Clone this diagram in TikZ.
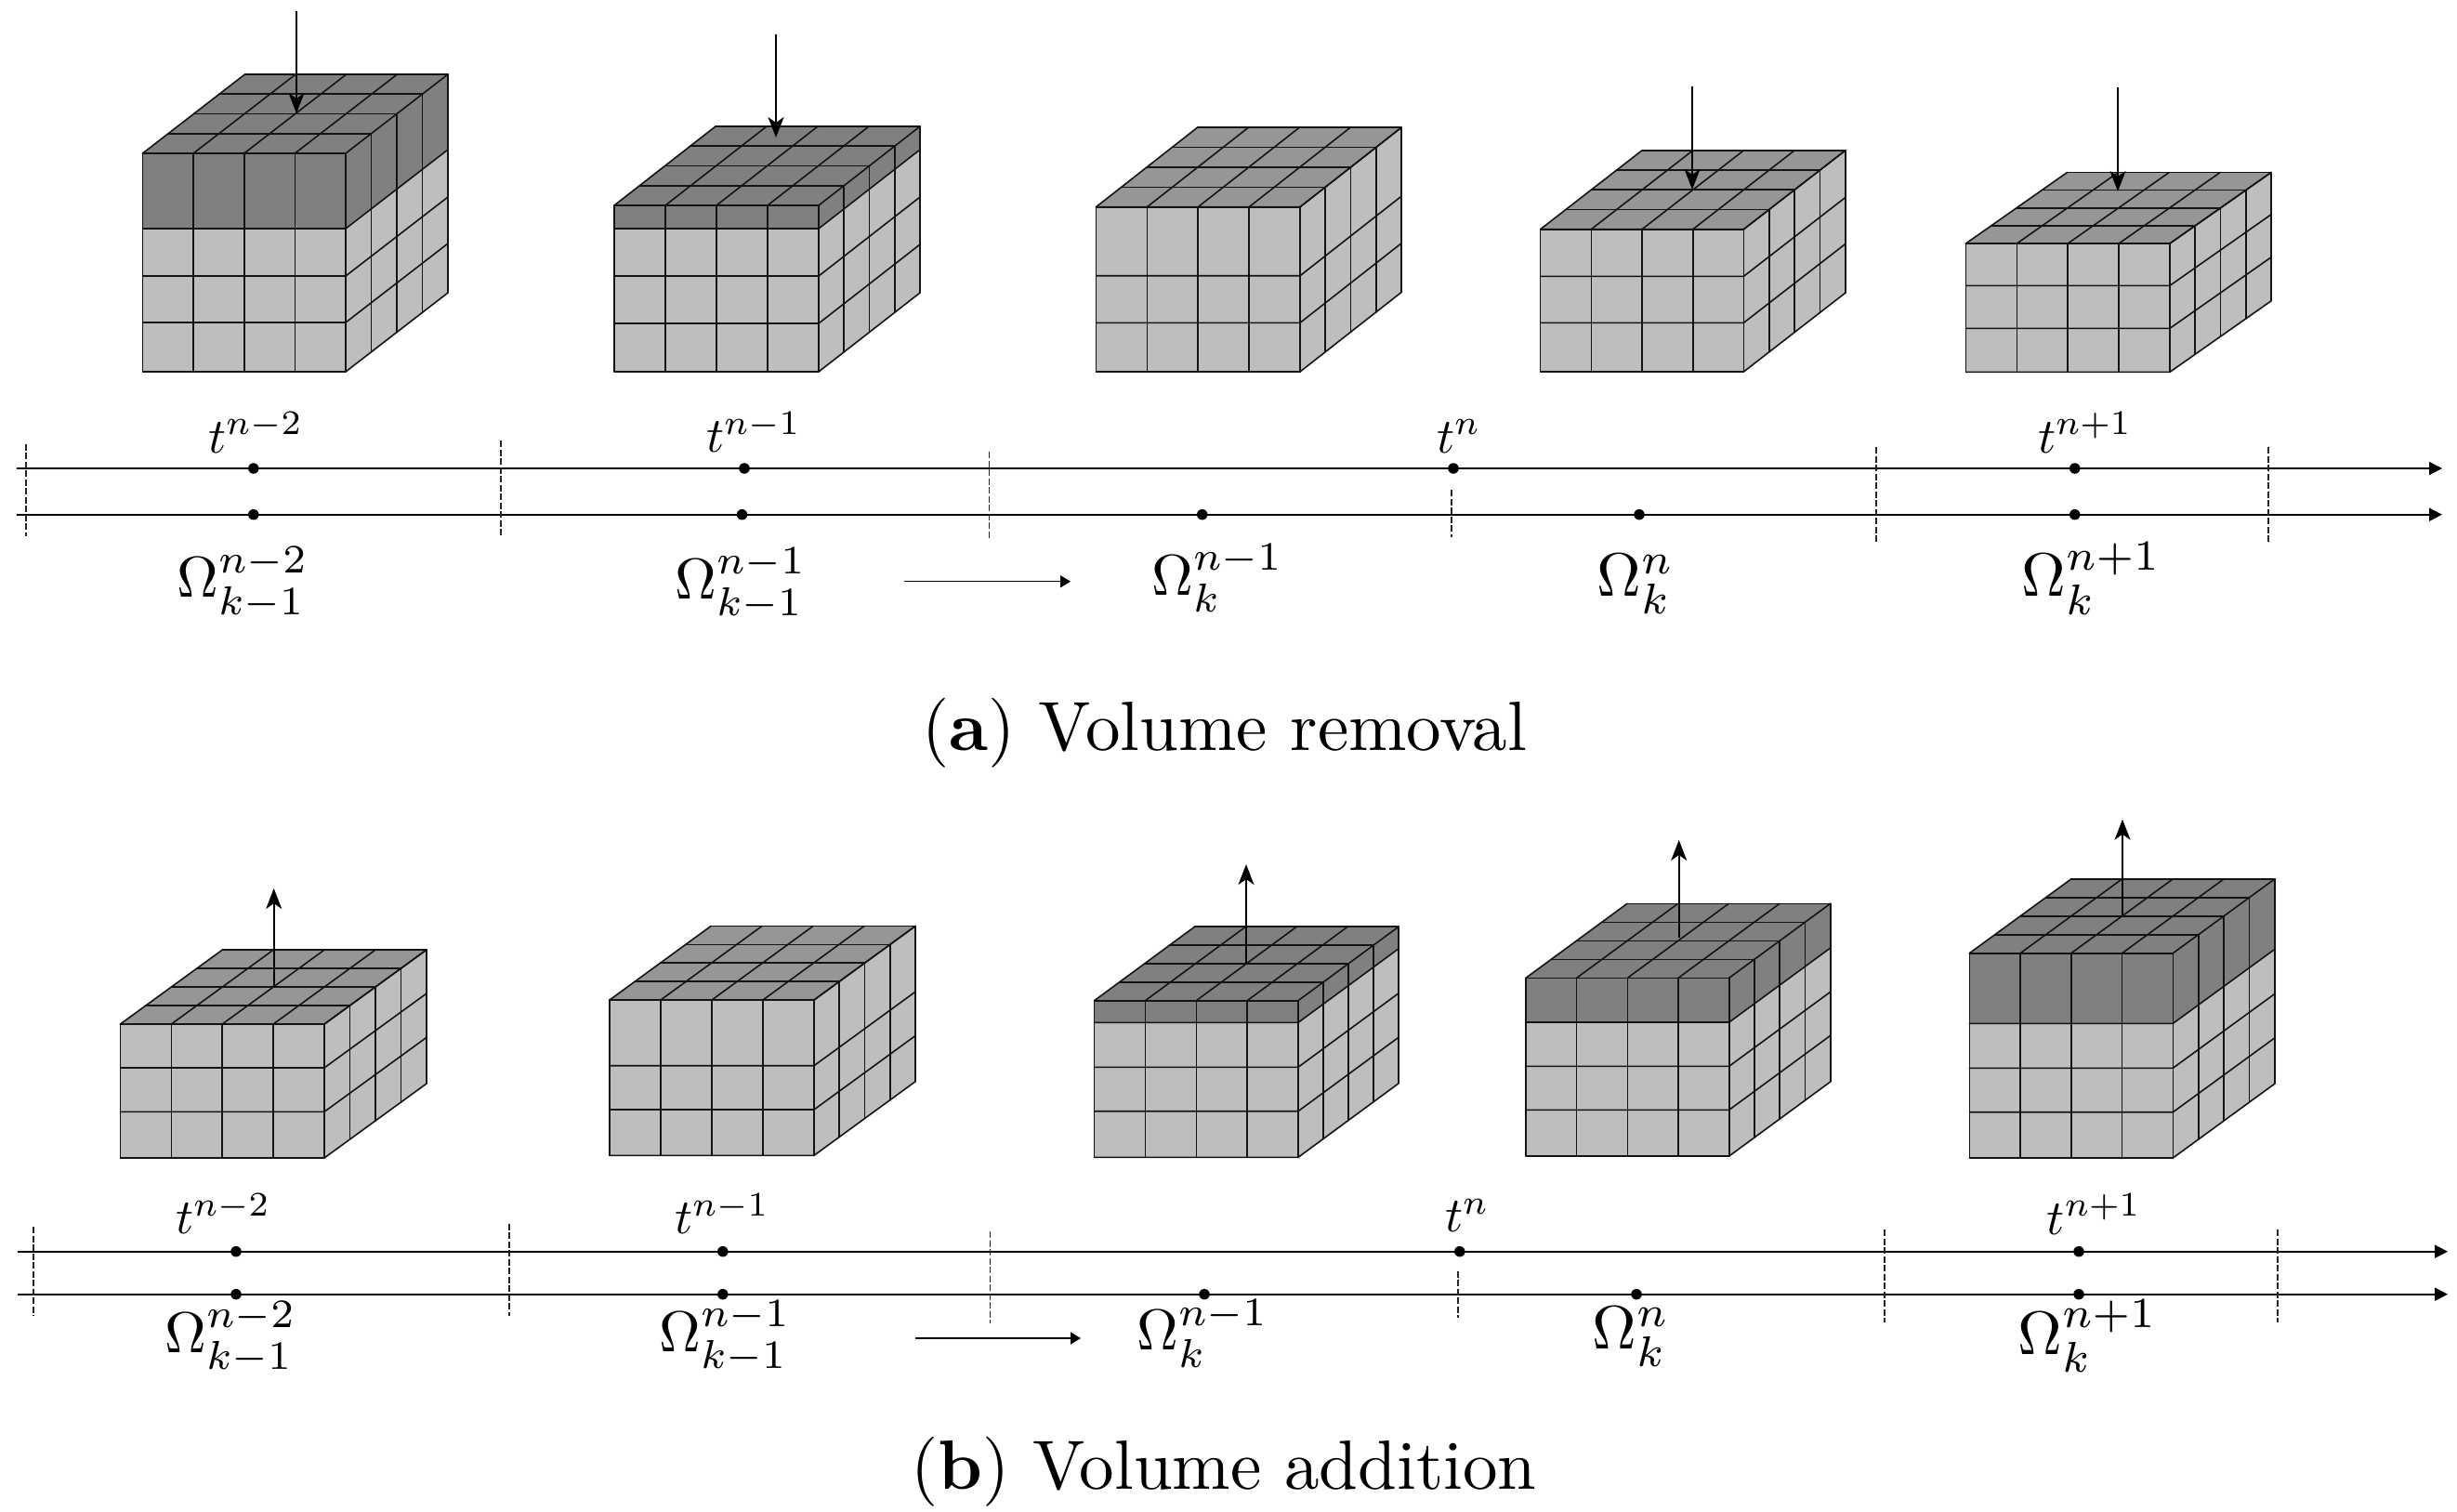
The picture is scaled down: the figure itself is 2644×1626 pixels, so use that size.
\documentclass[tikz,border=0pt]{standalone}
\usetikzlibrary{arrows.meta}
\definecolor{facelight}{gray}{0.745}
\definecolor{facetop}{gray}{0.59}
\definecolor{facedark}{gray}{0.5}
\definecolor{gridc}{gray}{0.08}
\tikzset{
  gridline/.style={draw=gridc,line width=1.6pt,line cap=round,line join=round},
  lightface/.style={fill=facelight},
  topface/.style={fill=facetop},
  darkface/.style={fill=facedark},
  move/.style={draw=black,line width=1.6pt,-{Stealth[length=22pt,width=17pt,inset=6pt]}},
  axisline/.style={draw=black,line width=1.8pt,-{Triangle[length=14pt,width=14pt]}},
  sidearrow/.style={draw=black,line width=1.5pt,-{Triangle[length=11pt,width=13pt]}},
  bar/.style={draw=black!85,line width=1.4pt,dash pattern=on 7pt off 2.5pt},
  dotn/.style={circle,fill=black,inner sep=0pt,minimum size=11.5pt},
  tlab/.style={inner sep=0pt,anchor=base west,scale=5.3},
  olab/.style={inner sep=0pt,anchor=base west,scale=6.2},
  olabw/.style={inner sep=0pt,anchor=base west,scale=6.6},
  caplab/.style={inner sep=0pt,anchor=base,scale=7.5},
}
% x0 x1 xback ytop dy ybot l1 l2 split (split=ytop: no dark band)
\newcommand{\gridblock}[9]{%
  \pgfmathsetmacro{\blkxa}{#1}\pgfmathsetmacro{\blkxb}{#2}\pgfmathsetmacro{\blkxc}{#3}%
  \pgfmathsetmacro{\blkyt}{#4}\pgfmathsetmacro{\blkdy}{#5}\pgfmathsetmacro{\blkyb}{#6}%
  \pgfmathsetmacro{\blkdx}{\blkxc-\blkxb}\pgfmathsetmacro{\blkw}{\blkxb-\blkxa}\pgfmathsetmacro{\blkys}{#9}%
  \fill[lightface] (\blkxa,\blkyt) rectangle (\blkxb,\blkyb);
  \fill[lightface] (\blkxb,\blkyt) -- (\blkxc,\blkyt-\blkdy) -- (\blkxc,\blkyb-\blkdy) -- (\blkxb,\blkyb) -- cycle;
  \ifdim\blkys pt>\blkyt pt
    \fill[darkface] (\blkxa,\blkyt) rectangle (\blkxb,\blkys);
    \fill[darkface] (\blkxb,\blkyt) -- (\blkxc,\blkyt-\blkdy) -- (\blkxc,\blkys-\blkdy) -- (\blkxb,\blkys) -- cycle;
    \fill[darkface] (\blkxa,\blkyt) -- (\blkxb,\blkyt) -- (\blkxc,\blkyt-\blkdy) -- (\blkxa+\blkdx,\blkyt-\blkdy) -- cycle;
  \else
    \fill[topface] (\blkxa,\blkyt) -- (\blkxb,\blkyt) -- (\blkxc,\blkyt-\blkdy) -- (\blkxa+\blkdx,\blkyt-\blkdy) -- cycle;
  \fi
  \foreach \i in {0,...,4}{
    \draw[gridline] (\blkxa+\i*\blkw/4,\blkyt) -- (\blkxa+\i*\blkw/4,\blkyb);
    \draw[gridline] (\blkxa+\i*\blkw/4,\blkyt) -- ++(\blkdx,-\blkdy);
    \draw[gridline] (\blkxa+\i*\blkdx/4,\blkyt-\i*\blkdy/4) -- ++(\blkw,0);
    \draw[gridline] (\blkxb+\i*\blkdx/4,\blkyt-\i*\blkdy/4) -- (\blkxb+\i*\blkdx/4,\blkyb-\i*\blkdy/4);
  }
  \foreach \h in {#7,#8,#9,#6}{
    \draw[gridline] (\blkxa,\h) -- (\blkxb,\h) -- ++(\blkdx,-\blkdy);
  }
}
\begin{document}
\begin{tikzpicture}[x=1pt,y=-1pt]
\useasboundingbox (0,0) rectangle (2644,1626);
% (a) blocks
\gridblock{153.5}{372}{482}{165}{85}{400}{297}{347}{246}
\gridblock{661}{881}{990}{221}{85}{400}{297}{348}{246}
\gridblock{1179.5}{1399}{1508}{222.7}{85.5}{400}{296.7}{347.3}{222.7}
\gridblock{1657.6}{1876.4}{1986}{246.7}{85}{400}{297.3}{347.3}{246.7}
\gridblock{2115.5}{2335}{2444}{262}{76.5}{400.3}{307.3}{353.3}{262}
% (a) removal arrows
\coordinate (ra1) at (319,12);   \coordinate (rb1) at (319,122);
\coordinate (ra2) at (835,37);   \coordinate (rb2) at (835,148);
\coordinate (ra3) at (1821,93);  \coordinate (rb3) at (1821,204);
\coordinate (ra4) at (2279,94);  \coordinate (rb4) at (2279,206);
\draw[move] (ra1) -- (rb1);
\draw[move] (ra2) -- (rb2);
\draw[move] (ra3) -- (rb3);
\draw[move] (ra4) -- (rb4);
% (a) timelines
\coordinate (a1s) at (18,504);   \coordinate (a1e) at (2628,504);
\coordinate (a2s) at (18,553.7); \coordinate (a2e) at (2628,553.7);
\draw[axisline] (a1s) -- (a1e);
\draw[axisline] (a2s) -- (a2e);
\foreach \n/\x/\u/\v in {p/28/477.7/576.7,q/539/474/576.7,r/1064.7/486/580,s/1562/527/577.7,t/2019/481/583,w/2441/481/583}{
  \coordinate (ab\n u) at (\x,\u); \coordinate (ab\n v) at (\x,\v);
  \draw[bar] (ab\n u) -- (ab\n v);
}
\node[dotn] (da1) at (272.8,504) {};
\node[dotn] (da2) at (801,504) {};
\node[dotn] (da3) at (1564,504) {};
\node[dotn] (da4) at (2232.7,504) {};
\node[dotn] (da5) at (272.8,553.7) {};
\node[dotn] (da6) at (798.5,553.7) {};
\node[dotn] (da7) at (1293.7,553.7) {};
\node[dotn] (da8) at (1764,553.7) {};
\node[dotn] (da9) at (2232.7,553.7) {};
\node[tlab] (ta1) at (223,487) {$t^{n-2}$};
\node[tlab] (ta2) at (759,486.7) {$t^{n-1}$};
\node[tlab] (ta3) at (1545,487) {$t^{n}$};
\node[tlab] (ta4) at (2192,487) {$t^{n+1}$};
\node[olab] (oa1) at (189,642.7) {$\Omega_{k-1}^{n-2}$};
\node[olab] (oa2) at (725,644) {$\Omega_{k-1}^{n-1}$};
\node[olab] (oa3) at (1238,640) {$\Omega_{k}^{n-1}$};
\node[olabw] (oa4) at (1717,641.7) {$\Omega_{k}^{n}$};
\node[olabw] (oa5) at (2174,641.7) {$\Omega_{k}^{n+1}$};
\coordinate (sa1) at (972.6,625.7); \coordinate (sa2) at (1152,625.7);
\draw[sidearrow] (sa1) -- (sa2);
\node[caplab] (capa) at (1318,807) {(\textbf{a}) Volume removal};
% (b) blocks
\gridblock{129.4}{349}{459}{1102}{80}{1246}{1149}{1196.3}{1102}
\gridblock{656}{876}{985}{1076}{79.5}{1243.3}{1146.7}{1194}{1076}
\gridblock{1177.6}{1397}{1505}{1076.7}{79.5}{1245.3}{1148.3}{1195.7}{1100.3}
\gridblock{1642}{1860.7}{1969.7}{1052.3}{80}{1244}{1147.3}{1194.3}{1100}
\gridblock{2119.3}{2338.3}{2448}{1025.7}{80}{1246}{1149.3}{1196.7}{1101.3}
% (b) addition arrows
\coordinate (ua1) at (294.7,1061.7); \coordinate (ub1) at (294.7,956);
\coordinate (ua2) at (1341,1036);    \coordinate (ub2) at (1341,930);
\coordinate (ua3) at (1806.7,1009);  \coordinate (ub3) at (1806.7,904);
\coordinate (ua4) at (2284,985);     \coordinate (ub4) at (2284,881.7);
\draw[move] (ua1) -- (ub1);
\draw[move] (ua2) -- (ub2);
\draw[move] (ua3) -- (ub3);
\draw[move] (ua4) -- (ub4);
% (b) timelines
\coordinate (b1s) at (18.5,1346.7); \coordinate (b1e) at (2634,1346.7);
\coordinate (b2s) at (18.5,1392.7); \coordinate (b2e) at (2634,1392.7);
\draw[axisline] (b1s) -- (b1e);
\draw[axisline] (b2s) -- (b2e);
\foreach \n/\x/\u/\v in {p/36/1320/1415.7,q/548/1316.7/1415.7,r/1065.6/1325/1424,s/1569/1367.7/1418,t/2028/1323/1422.7,w/2451/1323/1422.7}{
  \coordinate (bb\n u) at (\x,\u); \coordinate (bb\n v) at (\x,\v);
  \draw[bar] (bb\n u) -- (bb\n v);
}
\node[dotn] (db1) at (254,1346.7) {};
\node[dotn] (db2) at (777.8,1346.7) {};
\node[dotn] (db3) at (1570.8,1346.7) {};
\node[dotn] (db4) at (2237,1346.7) {};
\node[dotn] (db5) at (254,1392.7) {};
\node[dotn] (db6) at (777.8,1392.7) {};
\node[dotn] (db7) at (1296,1392.7) {};
\node[dotn] (db8) at (1761,1392.7) {};
\node[dotn] (db9) at (2237,1392.7) {};
\node[tlab] (tb1) at (188,1327.7) {$t^{n-2}$};
\node[tlab] (tb2) at (725,1327.7) {$t^{n-1}$};
\node[tlab] (tb3) at (1554,1325.7) {$t^{n}$};
\node[tlab] (tb4) at (2201.6,1328) {$t^{n+1}$};
\node[olab] (ob1) at (176,1455) {$\Omega_{k-1}^{n-2}$};
\node[olab] (ob2) at (708,1454) {$\Omega_{k-1}^{n-1}$};
\node[olab] (ob3) at (1222,1452.7) {$\Omega_{k}^{n-1}$};
\node[olabw] (ob4) at (1712,1451.7) {$\Omega_{k}^{n}$};
\node[olabw] (ob5) at (2170,1457) {$\Omega_{k}^{n+1}$};
\coordinate (sb1) at (985,1440); \coordinate (sb2) at (1163,1440);
\draw[sidearrow] (sb1) -- (sb2);
\node[caplab] (capb) at (1317,1602) {(\textbf{b}) Volume addition};
\end{tikzpicture}
\end{document}
